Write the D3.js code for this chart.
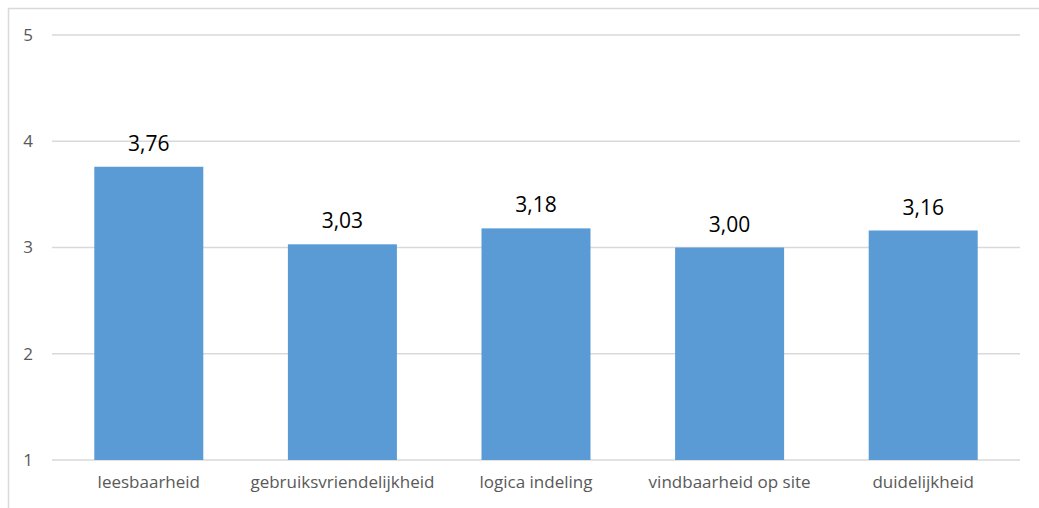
<!DOCTYPE html>
<html>
<head>
<meta charset="utf-8">
<script src="https://cdn.jsdelivr.net/npm/d3@7"></script>
<style>
  body { margin: 0; background: #fff; }
  text { font-family: "Open Sans", "Liberation Sans", sans-serif; }
</style>
</head>
<body>
<div id="chart"></div>
<script>
// data
var categories = ["leesbaarheid", "gebruiksvriendelijkheid", "logica indeling", "vindbaarheid op site", "duidelijkheid"];
var values = [3.76, 3.03, 3.18, 3.00, 3.16];
var yTicks = [1, 2, 3, 4, 5];

var W = 1039, H = 508;
var margin = {top: 35, right: 19, bottom: 48, left: 52},
    width = W - margin.left - margin.right,
    height = H - margin.top - margin.bottom;

var svg = d3.select("#chart")
  .append("svg")
    .attr("width", W)
    .attr("height", H);

// chart area border (runs off right/bottom edge)
svg.append("rect")
  .attr("x", 8.5).attr("y", 8.5)
  .attr("width", W + 10).attr("height", H + 10)
  .attr("fill", "none")
  .attr("stroke", "#d9d9d9")
  .attr("stroke-width", 1.5);

var g = svg.append("g")
  .attr("transform", "translate(" + margin.left + "," + margin.top + ")");

var x = d3.scaleBand()
  .domain(categories)
  .range([0, width])
  .paddingInner(0.437)
  .paddingOuter(0.437 / 2);

var y = d3.scaleLinear()
  .domain([1, 5])
  .range([height, 0]);

// gridlines
g.selectAll(".grid")
  .data(yTicks)
  .enter().append("line")
    .attr("x1", 0).attr("x2", width)
    .attr("y1", function(d) { return y(d); })
    .attr("y2", function(d) { return y(d); })
    .attr("stroke", "#d9d9d9")
    .attr("stroke-width", 1.3);

// y axis labels
var yAxis = g.append("g")
  .call(d3.axisLeft(y).tickValues(yTicks).tickSize(0).tickPadding(19).tickFormat(d3.format("d")));
yAxis.select(".domain").remove();
yAxis.selectAll("text")
  .attr("fill", "#595959")
  .style("font-size", "17px");

// bars
g.selectAll("rect.bar")
  .data(values)
  .enter().append("rect")
    .attr("class", "bar")
    .attr("x", function(d, i) { return x(categories[i]); })
    .attr("y", function(d) { return y(d); })
    .attr("width", x.bandwidth())
    .attr("height", function(d) { return height - y(d); })
    .attr("fill", "#5b9bd5");

// value labels
g.selectAll("text.val")
  .data(values)
  .enter().append("text")
    .attr("class", "val")
    .attr("x", function(d, i) { return x(categories[i]) + x.bandwidth() / 2; })
    .attr("y", function(d) { return y(d) - 16; })
    .attr("text-anchor", "middle")
    .attr("fill", "#000")
    .style("font-size", "21px")
    .text(function(d) { return d.toFixed(2).replace(".", ","); });

// x axis labels
var xAxis = g.append("g")
  .attr("transform", "translate(0," + height + ")")
  .call(d3.axisBottom(x).tickSize(0).tickPadding(16));
xAxis.select(".domain").remove();
xAxis.selectAll("text")
  .attr("fill", "#595959")
  .style("font-size", "17px");
</script>
</body>
</html>
